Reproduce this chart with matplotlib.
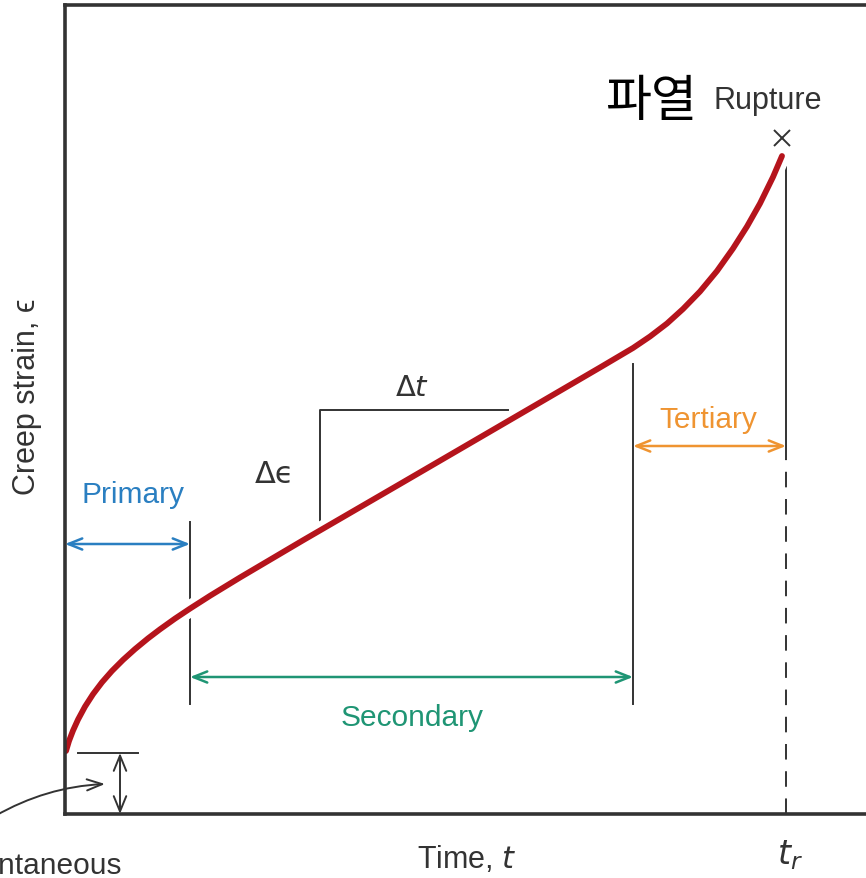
import matplotlib.pyplot as plt
import matplotlib.patheffects as pe

plt.rcParams['font.family'] = ['Liberation Sans', 'DejaVu Sans']

# Creep curve (time, strain) in arbitrary units
curve_t = [1, 4, 8, 13, 20, 28, 37, 47, 58, 70, 83, 95, 110, 125, 145, 175,
           238, 335, 475, 535, 568, 585, 602, 618, 635, 652, 668, 682, 695,
           708, 717]
curve_eps = [63, 73, 83.4, 94.4, 107.4, 119.8, 131.7, 143.1, 154.1, 164.9,
             175.6, 184.7, 195.4, 205.4, 218.2, 236.5, 273.7, 330, 411.5,
             446.5, 466, 477.5, 490.5, 505, 522.5, 543, 565.5, 587.5, 610.5,
             637, 658]

# Stage boundaries
t_primary_end = 125
t_secondary_end = 568
t_rupture = 721
eps_instant = 61

stage_names = ['Primary', 'Secondary', 'Tertiary']
stage_colors = ['#2a7fc1', '#1f9574', '#ef9431']

RED = '#b5141c'
INK = '#333333'

fig = plt.figure(figsize=(8.66, 8.79), dpi=100)
ax = fig.add_axes([65 / 866, 64 / 879, 801 / 866, 809 / 879])
ax.set_xlim(0, 801)
ax.set_ylim(0, 809)
ax.set_xticks([])
ax.set_yticks([])
for side in ['left', 'top', 'bottom']:
    ax.spines[side].set_linewidth(2.6)
    ax.spines[side].set_color(INK)
    ax.spines[side].set_zorder(5)
ax.spines['right'].set_visible(False)

# creep curve with a white halo
ax.plot(curve_t, curve_eps, color=RED, lw=4.2, solid_capstyle='round',
        solid_joinstyle='round', zorder=4,
        path_effects=[pe.Stroke(linewidth=12, foreground='white'), pe.Normal()])

# boundary lines
ax.plot([t_primary_end, t_primary_end], [110, 292], color=INK, lw=1.4, zorder=1)
ax.plot([t_secondary_end, t_secondary_end], [110, 450], color=INK, lw=1.4, zorder=1)
ax.plot([t_rupture, t_rupture], [355, 647], color=INK, lw=1.4, zorder=1)
ax.plot([t_rupture, t_rupture], [0, 355], color=INK, lw=1.4, zorder=1,
        linestyle=(0, (8, 6)))

def span(x0, x1, y, color):
    ax.annotate('', xy=(x1, y), xytext=(x0, y),
                arrowprops=dict(arrowstyle='<->,head_length=1.0,head_width=0.4',
                                color=color, lw=1.8, shrinkA=0, shrinkB=0))

span(0, t_primary_end, 270, stage_colors[0])
span(t_primary_end, t_secondary_end, 137, stage_colors[1])
span(t_secondary_end, t_rupture, 368, stage_colors[2])

fs = 21.5
ax.text(68, 320, stage_names[0], color=stage_colors[0], fontsize=fs,
        ha='center', va='center')
ax.text(347, 97, stage_names[1], color=stage_colors[1], fontsize=fs,
        ha='center', va='center')
ax.text(643, 395, stage_names[2], color=stage_colors[2], fontsize=fs,
        ha='center', va='center')

# slope triangle
ax.plot([255, 255, 443], [292, 404, 404], color=INK, lw=1.4, zorder=1)
ax.text(347, 427, r'$\Delta t$', fontsize=21, ha='center', va='center',
        color=INK)
ax.text(210, 340, 'Δϵ', fontsize=22, ha='center', va='center', color=INK,
        family=['DejaVu Sans'])

# instantaneous strain marker
ax.plot([13, 73], [eps_instant, eps_instant], color=INK, lw=1.4)
ax.annotate('', xy=(55, eps_instant), xytext=(55, 0),
            arrowprops=dict(arrowstyle='<->,head_length=1.1,head_width=0.45',
                            color=INK, lw=1.4, shrinkA=0, shrinkB=0))
ax.annotate('', xy=(40, 30), xytext=(-70, -2),
            arrowprops=dict(arrowstyle='->,head_length=1.1,head_width=0.4',
                            color=INK, lw=1.4, shrinkA=0, shrinkB=0,
                            connectionstyle='arc3,rad=-0.12'),
            annotation_clip=False)
ax.text(57, -51, 'Instantaneous', fontsize=21.5, ha='right', va='center',
        color=INK, clip_on=False)

# rupture
ax.plot([717], [676], marker='x', color=INK, markersize=11, mew=1.4,
        clip_on=False)
ax.text(632, 713, '파열', fontsize=36, ha='right', va='center', color='black',
        family=['Noto Sans CJK KR', 'DejaVu Sans'])
ax.text(648, 714, 'Rupture', fontsize=22, ha='left', va='center', color=INK)

# axis labels
ax.text(402, -45, r'Time, $t$', fontsize=22, ha='center', va='center',
        color=INK, clip_on=False)
ax.text(725, -40, r'$t_r$', fontsize=24, ha='center', va='center', color=INK,
        clip_on=False)
ax.text(-38, 418, 'Creep strain, ϵ', fontsize=22, rotation=90,
        ha='center', va='center', color=INK, clip_on=False,
        family=['Liberation Sans', 'DejaVu Sans'])

fig.savefig('out.png', dpi=100)
